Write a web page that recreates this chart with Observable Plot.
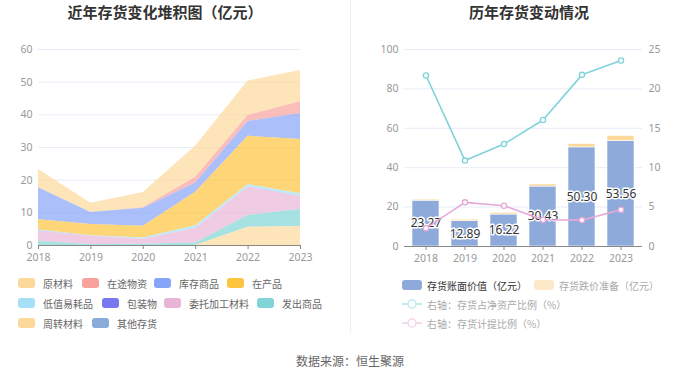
<!DOCTYPE html>
<html>
<head>
<meta charset="utf-8">
<script src="https://cdn.jsdelivr.net/npm/d3@7"></script>
<script src="https://cdn.jsdelivr.net/npm/@observablehq/plot@0.6"></script>
<style>
  html, body { margin: 0; padding: 0; background: #fff; }
  #root { position: relative; width: 700px; height: 378px; background: #fff; overflow: hidden;
          font-family: "Noto Sans", "Noto Sans CJK SC", sans-serif; }
  .abs { position: absolute; }
  .title { font-family: "Noto Sans CJK SC", sans-serif; font-weight: bold; font-size: 15px; color: #333;
           top: 1px; white-space: nowrap; transform: translateX(-50%); }
  .leg { position: absolute; display: flex; align-items: center; font-family: "Noto Sans CJK SC", sans-serif;
         font-size: 10px; white-space: nowrap; height: 14px; }
  .sw { display: inline-block; border-radius: 3px; margin-right: 8px; }
</style>
</head>
<body>
<div id="root">
  <div class="abs title" style="left:165px;">近年存货变化堆积图（亿元）</div>
  <div class="abs title" style="left:529px;">历年存货变动情况</div>
  <div class="abs" style="left:350px;top:0;width:1px;height:333px;background:#f0f0f0;"></div>
  <div id="left" class="abs" style="left:0;top:0;"></div>
  <div id="right" class="abs" style="left:350px;top:0;"></div>
  <div id="right2" class="abs" style="left:350px;top:0;"></div>
  <div id="legL"></div>
  <div id="legR"></div>
  <div class="abs" style="left:350px;top:352px;transform:translateX(-50%);font-family:'Noto Sans CJK SC',sans-serif;font-size:12px;color:#666;white-space:nowrap;">数据来源：恒生聚源</div>
</div>
<script>
// ---------- Data ----------
const years = [2018, 2019, 2020, 2021, 2022, 2023];

// Left chart: inventory components (亿元)
const seriesNames = ["原材料", "在途物资", "库存商品", "在产品", "低值易耗品", "包装物", "委托加工材料", "发出商品", "周转材料", "其他存货"];
const seriesColors = ["#fdd89b", "#f9a19b", "#87a5f8", "#fdc43d", "#a5dff8", "#7777ef", "#e8b5d8", "#82d5d6", "#fdd89b", "#8aabda"];
const rawMaterials   = [5.62, 2.8, 4.7, 9.5, 10.5, 9.56];
const inTransit      = [0, 0, 0.1, 1.8, 1.9, 3.6];
const finishedGoods  = [9.8, 3.7, 5.5, 2.8, 4.5, 8.0];
const workInProgress = [3.16, 3.4, 3.6, 10.3, 14.8, 16.6];
const lowValueItems  = [0.3, 0.2, 0.4, 0.8, 0.7, 0.8];
const packaging      = [0.02, 0.02, 0.02, 0.03, 0.03, 0.03];
const consignedMat   = [3.2, 2.5, 1.5, 4.4, 8.7, 4.0];
const goodsShipped   = [1.2, 0.3, 0.4, 0.8, 3.6, 5.2];
const turnoverMat    = [0, 0, 0, 0, 5.6, 5.8];
const otherInventory = [0, 0, 0, 0, 0, 0];
const seriesValues = [rawMaterials, inTransit, finishedGoods, workInProgress, lowValueItems, packaging, consignedMat, goodsShipped, turnoverMat, otherInventory];
const leftTicksY = [0, 10, 20, 30, 40, 50, 60];

// Right chart
const bookValue   = [23.27, 12.89, 16.22, 30.43, 50.30, 53.56];
const provision   = [0.55, 0.76, 0.88, 1.07, 1.74, 2.62];
const ratioNetAssets = [21.7, 10.9, 13.0, 16.06, 21.78, 23.6];
const ratioProvision = [2.33, 5.6, 5.17, 3.39, 3.35, 4.66];
const rightTicksL = [0, 20, 40, 60, 80, 100];
const rightTicksR = [0, 5, 10, 15, 20, 25];
const barNames = ["存货账面价值（亿元）", "存货跌价准备（亿元）"];
const barColors = ["#8eaadb", "#fdd89b"];
const lineNames = ["右轴：存货占净资产比例（%）", "右轴：存货计提比例（%）"];
const lineColors = ["#7fd3da", "#e6a9d8"];

// ---------- Left chart ----------
const stackOrder = seriesNames.slice().reverse(); // bottom -> top
const areaData = [];
seriesNames.forEach((n, i) => years.forEach((y, j) => areaData.push({year: y, name: n, value: seriesValues[i][j]})));

const fontStyle = "background:transparent;overflow:visible;font-family:'Noto Sans','Noto Sans CJK SC',sans-serif;font-size:10.5px;color:#999;";

const left = Plot.plot({
  width: 350, height: 265,
  marginLeft: 38, marginRight: 50, marginTop: 49, marginBottom: 20,
  style: fontStyle,
  x: {domain: [2018, 2023]},
  y: {domain: [0, 60]},
  color: {domain: seriesNames, range: seriesColors},
  marks: [
    Plot.gridY(leftTicksY, {stroke: "#e8ecf6", strokeOpacity: 1}),
    Plot.areaY(areaData, {x: "year", y: "value", fill: "name", fillOpacity: 0.7, order: stackOrder, curve: "linear"}),
    Plot.ruleY([0], {stroke: "#888"}),
    Plot.axisX(years, {tickSize: 4, tickPadding: 4, tickFormat: d => String(d), stroke: "#888", label: null}),
    Plot.axisY(leftTicksY, {tickSize: 0, tickPadding: 6, label: null})
  ]
});
document.getElementById("left").appendChild(left);

// ---------- Right chart: bars ----------
const barData = [];
years.forEach((y, j) => {
  barData.push({year: y, name: barNames[0], value: bookValue[j]});
  barData.push({year: y, name: barNames[1], value: provision[j]});
});
const labelData = years.map((y, j) => ({year: y, value: bookValue[j]}));

const xBand = {type: "band", domain: years, paddingInner: 0.32, paddingOuter: 0.16};

const right = Plot.plot({
  width: 350, height: 265,
  marginLeft: 54, marginRight: 58, marginTop: 49, marginBottom: 19,
  style: fontStyle,
  x: xBand,
  y: {domain: [0, 100]},
  color: {domain: barNames, range: barColors},
  marks: [
    Plot.gridY(rightTicksL, {stroke: "#e8ecf6", strokeOpacity: 1}),
    Plot.barY(barData, {x: "year", y: "value", fill: "name", stroke: "#fff", strokeWidth: 0.6}),
    Plot.ruleY([0], {stroke: "#888"}),
    Plot.axisX({tickSize: 4, tickPadding: 4, tickFormat: d => String(d), stroke: "#888", label: null}),
    Plot.axisY(rightTicksL, {tickSize: 0, tickPadding: 6, label: null}),
    Plot.text(labelData, {x: "year", y: d => d.value / 2, text: d => d.value.toFixed(2),
      fill: "#333", stroke: "#fff", strokeWidth: 3, fontSize: 12,
      fontFamily: "'Noto Sans','Noto Sans CJK SC',sans-serif"})
  ]
});
document.getElementById("right").appendChild(right);

// ---------- Right chart: lines on right axis ----------
const lineData = [];
years.forEach((y, j) => {
  lineData.push({year: y, name: lineNames[0], value: ratioNetAssets[j]});
  lineData.push({year: y, name: lineNames[1], value: ratioProvision[j]});
});
const right2 = Plot.plot({
  width: 350, height: 265,
  marginLeft: 54, marginRight: 58, marginTop: 49, marginBottom: 19,
  style: fontStyle,
  x: {...xBand, axis: null},
  y: {domain: [0, 25], axis: null},
  color: {domain: lineNames, range: lineColors},
  marks: [
    Plot.axisY(rightTicksR, {anchor: "right", tickSize: 0, tickPadding: 6, label: null}),
    Plot.line(lineData, {x: "year", y: "value", stroke: "name", z: "name", strokeWidth: 1.6}),
    Plot.dot(lineData, {x: "year", y: "value", stroke: "name", fill: "#fff", r: 2.6, strokeWidth: 1.3})
  ]
});
document.getElementById("right2").appendChild(right2);

// ---------- Legends ----------
const legL = document.getElementById("legL");
const legLPos = [[18, 283], [82, 283], [154, 283], [227, 283], [18, 303], [102, 303], [164, 303], [257, 303], [18, 323], [92, 323]];
seriesNames.forEach((n, i) => {
  const d = document.createElement("div");
  d.className = "leg";
  d.style.left = legLPos[i][0] + "px";
  d.style.top = (legLPos[i][1] - 7) + "px";
  d.style.color = "#666";
  d.innerHTML = `<span class="sw" style="width:17px;height:10px;background:${seriesColors[i]}"></span>${n}`;
  legL.appendChild(d);
});

const legR = document.getElementById("legR");
const legRBars = [[402, 285, "#8eaadb", "#333"], [534, 285, "#fde8c8", "#aaa"]];
barNames.forEach((n, i) => {
  const [x, y, c, tc] = legRBars[i];
  const d = document.createElement("div");
  d.className = "leg";
  d.style.left = x + "px";
  d.style.top = (y - 7) + "px";
  d.style.color = tc;
  d.innerHTML = `<span class="sw" style="width:20px;height:10px;background:${c};margin-right:5px"></span>${n}`;
  legR.appendChild(d);
});
const legRLines = [[402, 304, "#b6e8ec"], [402, 323, "#f3d2ea"]];
lineNames.forEach((n, i) => {
  const [x, y, c] = legRLines[i];
  const d = document.createElement("div");
  d.className = "leg";
  d.style.left = x + "px";
  d.style.top = (y - 7) + "px";
  d.style.color = "#aaa";
  d.innerHTML = `<svg width="20" height="14" style="margin-right:5px"><line x1="0" x2="20" y1="7" y2="7" stroke="${c}" stroke-width="1.6"/><circle cx="10" cy="7" r="4" fill="#fff" stroke="${c}" stroke-width="1.3"/></svg>${n}`;
  legR.appendChild(d);
});
</script>
</body>
</html>
